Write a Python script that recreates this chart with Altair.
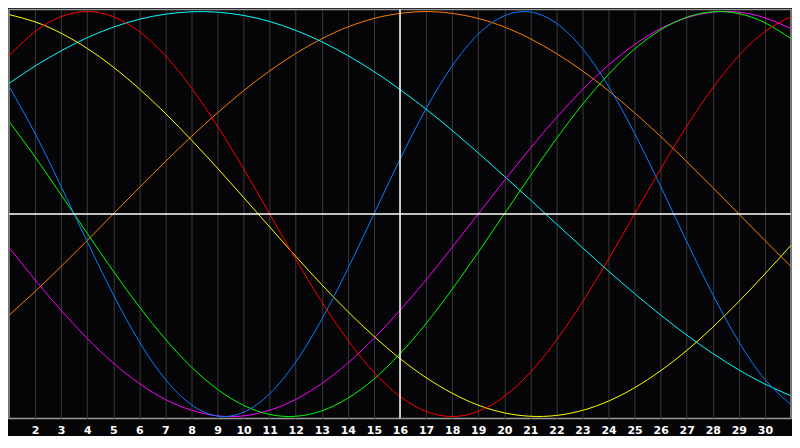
import pandas as pd
import altair as alt

# days of the month shown on the chart
days = list(range(1, 32))
tick_days = list(range(2, 31))
today = 16

# cycle values in percent (day 1 .. 31)
physical = [63.1, 39.8, 13.6, -13.6, -39.8, -63.1, -81.7, -94.2, -99.8, -97.9, -88.8, -73.1, -52.0, -27.0, 0, 27.0,
            52.0, 73.1, 88.8, 97.9, 99.8, 94.2, 81.7, 63.1, 39.8, 13.6, -13.6, -39.8, -63.1, -81.7, -94.2]
emotional = [78.2, 90.1, 97.5, 100, 97.5, 90.1, 78.2, 62.3, 43.4, 22.3, 0, -22.3, -43.4, -62.3, -78.2, -90.1,
             -97.5, -100, -97.5, -90.1, -78.2, -62.3, -43.4, -22.3, 0, 22.3, 43.4, 62.3, 78.2, 90.1, 97.5]
intellectual = [45.8, 28.2, 9.5, -9.5, -28.2, -45.8, -61.8, -75.6, -86.6, -94.5, -99.0, -99.9, -97.2, -91.0, -81.5, -69.0,
                -54.1, -37.2, -18.9, 0, 18.9, 37.2, 54.1, 69.0, 81.5, 91.0, 97.2, 99.9, 99.0, 94.5, 86.6]
intuitive = [-16.5, -32.5, -47.6, -61.4, -73.6, -83.7, -91.6, -96.9, -99.7, -99.7, -96.9, -91.6, -83.7, -73.6, -61.4, -47.6,
             -32.5, -16.5, 0, 16.5, 32.5, 47.6, 61.4, 73.6, 83.7, 91.6, 96.9, 99.7, 99.7, 96.9, 91.6]
aesthetic = [98.5, 94.9, 89.3, 81.8, 72.6, 61.8, 49.7, 36.5, 22.6, 8.2, -6.4, -20.9, -34.9, -48.2, -60.4, -71.4,
             -80.8, -88.5, -94.4, -98.2, -99.9, -99.5, -97.0, -92.4, -85.8, -77.4, -67.4, -55.9, -43.2, -29.6, -15.4]
awareness = [-50, -38.3, -25.9, -13.1, 0, 13.1, 25.9, 38.3, 50, 60.9, 70.7, 79.3, 86.6, 92.4, 96.6, 99.1,
             100, 99.1, 96.6, 92.4, 86.6, 79.3, 70.7, 60.9, 50, 38.3, 25.9, 13.1, 0, -13.1, -25.9]
spiritual = [64.5, 73.1, 80.6, 87.1, 92.3, 96.2, 98.7, 99.9, 99.7, 98.1, 95.1, 90.7, 85.1, 78.3, 70.4, 61.5,
             51.8, 41.3, 30.2, 18.7, 7.0, -4.9, -16.6, -28.2, -39.3, -49.9, -59.8, -68.9, -77.0, -84.0, -89.8]

series = ["Awareness", "Spiritual", "Aesthetic", "Intuitive", "Intellectual", "Physical", "Emotional"]
colors = ["#ff8000", "#00ffff", "#ffff00", "#ff00ff", "#00ff00", "#0a7cff", "#ff0000"]

df = pd.DataFrame({
    "Day": days,
    "Physical": physical,
    "Emotional": emotional,
    "Intellectual": intellectual,
    "Intuitive": intuitive,
    "Aesthetic": aesthetic,
    "Awareness": awareness,
    "Spiritual": spiritual,
})

x_scale = alt.Scale(domain=[1, 31], nice=False, zero=False)
y_scale = alt.Scale(domain=[-101, 101], nice=False)

x_axis = alt.Axis(
    values=tick_days,
    title=None,
    grid=True,
    gridColor="#3a3a3a",
    gridWidth=1,
    ticks=False,
    domain=False,
    labelColor="white",
    labelFont="DejaVu Sans",
    labelFontWeight="bold",
    labelFontSize=11,
    labelPadding=6,
    labelOverlap=False,
    labelFlush=False,
    format="d",
)

lines = (
    alt.Chart(df)
    .transform_fold(series, as_=["Cycle", "Value"])
    .mark_line(strokeWidth=1, interpolate="natural", clip=True)
    .encode(
        x=alt.X("Day:Q", scale=x_scale, axis=x_axis),
        y=alt.Y("Value:Q", scale=y_scale, axis=None),
        color=alt.Color("Cycle:N", scale=alt.Scale(domain=series, range=colors), legend=None),
        order=alt.Order("Day:Q"),
    )
)

midline = alt.Chart(pd.DataFrame({"v": [0]})).mark_rule(color="white", strokeWidth=1.5).encode(
    y=alt.Y("v:Q", scale=y_scale, axis=None)
)
today_line = alt.Chart(pd.DataFrame({"d": [today]})).mark_rule(color="white", strokeWidth=1.5).encode(
    x=alt.X("d:Q", scale=x_scale, axis=x_axis)
)

chart = (
    alt.layer(lines, today_line, midline)
    .properties(width=784, height=410, background="#050508", padding=0)
    .configure_view(stroke="#9a9a9a", strokeWidth=1.5, fill="#050508")
)

chart.save("out.html", embed_options={"renderer": "svg", "actions": False})
